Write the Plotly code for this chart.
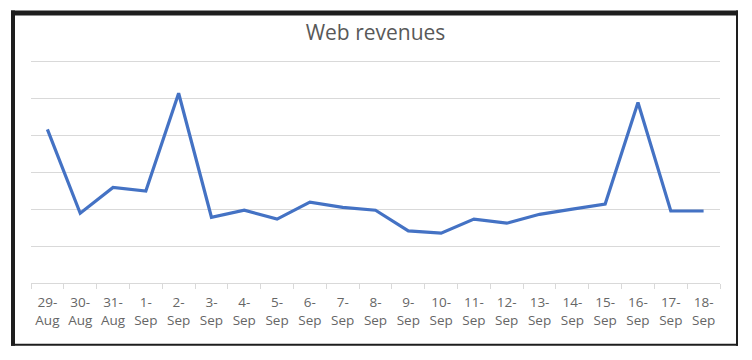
import plotly.graph_objects as go

days = ["29-<br>Aug", "30-<br>Aug", "31-<br>Aug", "1-<br>Sep", "2-<br>Sep", "3-<br>Sep",
        "4-<br>Sep", "5-<br>Sep", "6-<br>Sep", "7-<br>Sep", "8-<br>Sep", "9-<br>Sep",
        "10-<br>Sep", "11-<br>Sep", "12-<br>Sep", "13-<br>Sep", "14-<br>Sep", "15-<br>Sep",
        "16-<br>Sep", "17-<br>Sep", "18-<br>Sep"]
revenues = [4.16, 1.89, 2.59, 2.49, 5.14, 1.78, 1.97, 1.73, 2.19, 2.05, 1.97, 1.41,
            1.35, 1.73, 1.62, 1.86, 2.00, 2.14, 4.89, 1.95, 1.95]
title_text = "Web revenues"

W, H = 752, 360
L, R, T, B = 31, 720, 55.5, 283
UNIT = 37.0
YMAX = (B - T) / UNIT

fig = go.Figure()
fig.add_trace(go.Scatter(x=days, y=revenues, mode="lines",
                         line=dict(color="#4472C4", width=3.2),
                         hoverinfo="skip"))

def px_x(p):
    return (p - L) / (R - L)

def px_y(p):
    return (B - p) / (B - T)

frame_color = "#1e1e1e"
shapes = []
for (x0, y0, x1, y1) in [(11, 10, 738, 15), (11, 10, 15, 346), (736, 10, 738, 346), (11, 344, 738, 346)]:
    shapes.append(dict(type="rect", xref="paper", yref="paper",
                       x0=px_x(x0), x1=px_x(x1), y0=px_y(y1), y1=px_y(y0),
                       fillcolor=frame_color, line=dict(width=0), layer="above"))

fig.update_layout(
    width=W, height=H,
    margin=dict(l=L, r=W - R, t=T, b=H - B, pad=0),
    paper_bgcolor="white", plot_bgcolor="white",
    showlegend=False,
    title=dict(text=title_text, x=0.5, xanchor="center", xref="paper",
               y=1 - 33 / H, yanchor="middle",
               font=dict(family="Open Sans", size=21, color="#595959")),
    font=dict(family="Open Sans", size=12, color="#595959"),
    shapes=shapes,
    xaxis=dict(type="category", range=[-0.5, len(days) - 0.5], showgrid=False,
               showline=True, linecolor="#d9d9d9", linewidth=1,
               ticks="outside", tickson="boundaries", ticklen=5, tickcolor="#d9d9d9",
               tickfont=dict(family="Open Sans", size=13.5, color="#666666"),
               ticklabelstandoff=7,
               tickangle=0, fixedrange=True),
    yaxis=dict(range=[0, YMAX], dtick=1, showgrid=True, gridcolor="#d9d9d9", gridwidth=1,
               zeroline=False, showticklabels=False, ticks="", showline=False,
               fixedrange=True),
)

fig.write_html("out.html", config={"displayModeBar": False},
               post_script="document.body.style.margin='0';document.body.style.padding='0';")
